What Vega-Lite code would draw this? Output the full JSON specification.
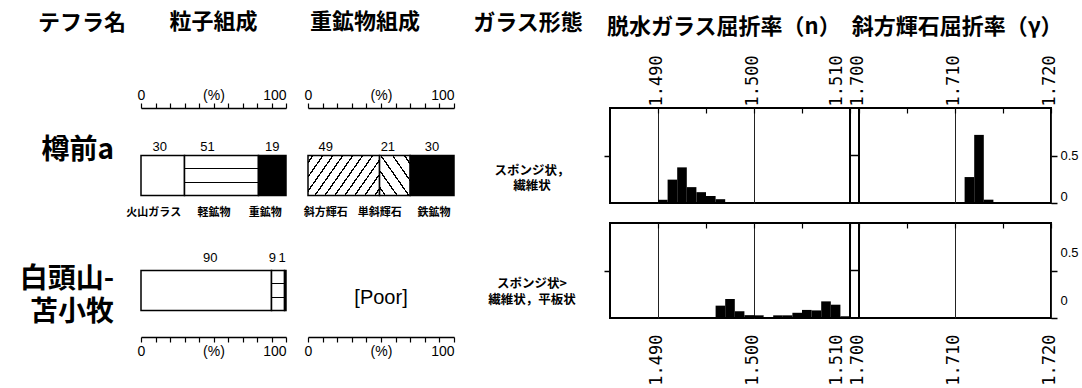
{
  "$schema": "https://vega.github.io/schema/vega-lite/v6.json",
  "background": "white",
  "padding": {"left": 0, "top": 11, "right": 0, "bottom": 0},
  "columns": 5,
  "spacing": {"row": 20, "column": 22},
  "bounds": "flush",
  "align": "each",
  "datasets": {
    "names": [
      {"tephra": "樽前a", "name": "樽前a"},
      {"tephra": "白頭山-苫小牧", "name": "白頭山-\n苫小牧"}
    ],
    "particles": [
      {"tephra": "樽前a", "comp": "火山ガラス", "pct": 30, "ord": 1},
      {"tephra": "樽前a", "comp": "軽鉱物", "pct": 51, "ord": 2},
      {"tephra": "樽前a", "comp": "重鉱物", "pct": 19, "ord": 3},
      {"tephra": "白頭山-苫小牧", "comp": "火山ガラス", "pct": 90, "ord": 1},
      {"tephra": "白頭山-苫小牧", "comp": "軽鉱物", "pct": 9, "ord": 2},
      {"tephra": "白頭山-苫小牧", "comp": "重鉱物", "pct": 1, "ord": 3}
    ],
    "heavy": [
      {"tephra": "樽前a", "mineral": "斜方輝石", "pct": 49, "ord": 1},
      {"tephra": "樽前a", "mineral": "単斜輝石", "pct": 21, "ord": 2},
      {"tephra": "樽前a", "mineral": "鉄鉱物", "pct": 30, "ord": 3}
    ],
    "notes": [
      {"tephra": "白頭山-苫小牧", "note": "[Poor]"}
    ],
    "morph": [
      {"tephra": "樽前a", "morph": "スポンジ状，\n繊維状"},
      {"tephra": "白頭山-苫小牧", "morph": "スポンジ状>\n繊維状，平板状"}
    ],
    "refr": [
      {"tephra": "樽前a", "mineral": "glass", "lo": 1.490, "hi": 1.491, "freq": 0.034},
      {"tephra": "樽前a", "mineral": "glass", "lo": 1.491, "hi": 1.492, "freq": 0.246},
      {"tephra": "樽前a", "mineral": "glass", "lo": 1.492, "hi": 1.493, "freq": 0.375},
      {"tephra": "樽前a", "mineral": "glass", "lo": 1.493, "hi": 1.494, "freq": 0.167},
      {"tephra": "樽前a", "mineral": "glass", "lo": 1.494, "hi": 1.495, "freq": 0.114},
      {"tephra": "樽前a", "mineral": "glass", "lo": 1.495, "hi": 1.496, "freq": 0.074},
      {"tephra": "樽前a", "mineral": "glass", "lo": 1.496, "hi": 1.497, "freq": 0.04},
      {"tephra": "樽前a", "mineral": "opx", "lo": 1.711, "hi": 1.712, "freq": 0.273},
      {"tephra": "樽前a", "mineral": "opx", "lo": 1.712, "hi": 1.713, "freq": 0.717},
      {"tephra": "樽前a", "mineral": "opx", "lo": 1.713, "hi": 1.714, "freq": 0.035},
      {"tephra": "白頭山-苫小牧", "mineral": "glass", "lo": 1.496, "hi": 1.497, "freq": 0.13},
      {"tephra": "白頭山-苫小牧", "mineral": "glass", "lo": 1.497, "hi": 1.498, "freq": 0.2},
      {"tephra": "白頭山-苫小牧", "mineral": "glass", "lo": 1.498, "hi": 1.499, "freq": 0.07},
      {"tephra": "白頭山-苫小牧", "mineral": "glass", "lo": 1.499, "hi": 1.500, "freq": 0.03},
      {"tephra": "白頭山-苫小牧", "mineral": "glass", "lo": 1.500, "hi": 1.501, "freq": 0.028},
      {"tephra": "白頭山-苫小牧", "mineral": "glass", "lo": 1.501, "hi": 1.502, "freq": 0.005},
      {"tephra": "白頭山-苫小牧", "mineral": "glass", "lo": 1.502, "hi": 1.503, "freq": 0.028},
      {"tephra": "白頭山-苫小牧", "mineral": "glass", "lo": 1.503, "hi": 1.504, "freq": 0.028},
      {"tephra": "白頭山-苫小牧", "mineral": "glass", "lo": 1.504, "hi": 1.505, "freq": 0.055},
      {"tephra": "白頭山-苫小牧", "mineral": "glass", "lo": 1.505, "hi": 1.506, "freq": 0.085},
      {"tephra": "白頭山-苫小牧", "mineral": "glass", "lo": 1.506, "hi": 1.507, "freq": 0.08},
      {"tephra": "白頭山-苫小牧", "mineral": "glass", "lo": 1.507, "hi": 1.508, "freq": 0.175},
      {"tephra": "白頭山-苫小牧", "mineral": "glass", "lo": 1.508, "hi": 1.509, "freq": 0.14},
      {"tephra": "白頭山-苫小牧", "mineral": "glass", "lo": 1.509, "hi": 1.510, "freq": 0.018}
    ]
  },
  "concat": [
    {
      "width": 119, "height": 95,
      "title": {"text": "テフラ名", "anchor": "start", "dx": 38, "offset": 73},
      "data": {"name": "names"},
      "transform": [{"filter": "datum.tephra === '樽前a'"}],
      "mark": {"type": "text", "align": "right", "baseline": "middle", "dx": -5, "dy": -4.5, "fontSize": 28, "fontWeight": "bold", "lineBreak": "\n", "lineHeight": 33, "color": "black"},
      "encoding": {"x": {"value": "width"}, "text": {"field": "name", "type": "nominal"}}
    },
    {
      "width": 145, "height": 95,
      "title": {"text": "粒子組成", "anchor": "middle", "offset": 54},
      "data": {"name": "particles"},
      "transform": [
        {"filter": "datum.tephra === '樽前a'"},
        {"stack": "pct", "groupby": ["tephra"], "sort": [{"field": "ord", "order": "ascending"}], "as": ["start", "end"]}
      ],
      "encoding": {
        "x": {"field": "start", "type": "quantitative", "scale": {"domain": [0, 100], "nice": false, "zero": false},
          "axis": {"orient": "top", "values": [0,10,20,30,40,50,60,70,80,90,100], "tickSize": 5, "tickWidth": 1.2, "tickColor": "black", "domainColor": "black", "domainWidth": 1.5, "grid": false, "title": null,
            "labelExpr": "datum.value == 0 ? '0' : datum.value == 50 ? '(%)' : datum.value == 100 ? '100' : ''",
            "labelAlign": {"condition": {"test": "datum.value == 100", "value": "right"}, "value": "center"},
            "labelPadding": 1, "labelFont": "Liberation Sans", "labelFontSize": 14, "labelColor": "black", "labelFlush": false, "labelOverlap": false, "labelBound": false}},
        "y": {"field": "tephra", "type": "nominal", "axis": null, "scale": {"type": "band", "paddingInner": 0, "paddingOuter": 0.6875, "align": 0.864}}
      },
      "layer": [
        {"transform": [{"filter": "datum.comp === '火山ガラス'"}], "mark": {"type": "rect", "fill": "white", "stroke": "black", "strokeWidth": 1.5}, "encoding": {"x2": {"field": "end"}}},
        {"transform": [{"filter": "datum.comp === '軽鉱物'"}], "mark": {"type": "rect", "stroke": "black", "strokeWidth": 1.5,
          "fill": {"gradient": "linear", "x1": 0, "y1": 0, "x2": 0, "y2": 1, "stops": [
            {"offset": 0, "color": "white"}, {"offset": 0.318, "color": "white"}, {"offset": 0.318, "color": "black"}, {"offset": 0.348, "color": "black"}, {"offset": 0.348, "color": "white"},
            {"offset": 0.652, "color": "white"}, {"offset": 0.652, "color": "black"}, {"offset": 0.682, "color": "black"}, {"offset": 0.682, "color": "white"}, {"offset": 1, "color": "white"}]}},
          "encoding": {"x2": {"field": "end"}}},
        {"transform": [{"filter": "datum.comp === '重鉱物'"}], "mark": {"type": "rect", "fill": "black", "stroke": "black", "strokeWidth": 1.5}, "encoding": {"x2": {"field": "end"}}},
        {"transform": [{"fold": ["start", "end"], "as": ["edge", "pos"]}, {"aggregate": [{"op": "mean", "field": "pos", "as": "mid"}], "groupby": ["tephra", "comp", "pct"]}],
          "mark": {"type": "text", "dy": -29, "dx": {"expr": "datum.comp === '火山ガラス' ? -3 : datum.comp === '軽鉱物' ? -14 : 0"}, "font": "Liberation Sans", "fontSize": 13, "color": "black", "baseline": "middle"},
          "encoding": {"x": {"field": "mid", "type": "quantitative"}, "text": {"field": "pct", "type": "quantitative"}}},
        {"transform": [{"fold": ["start", "end"], "as": ["edge", "pos"]}, {"aggregate": [{"op": "mean", "field": "pos", "as": "mid"}], "groupby": ["tephra", "comp", "pct"]}],
          "mark": {"type": "text", "dy": 37.5, "dx": {"expr": "datum.comp === '火山ガラス' ? -9 : datum.comp === '軽鉱物' ? -7.5 : -7"}, "fontSize": 11, "fontWeight": "bold", "color": "black", "baseline": "middle"},
          "encoding": {"x": {"field": "mid", "type": "quantitative"}, "text": {"field": "comp", "type": "nominal"}}}
      ]
    },
    {
      "width": 146, "height": 95,
      "title": {"text": "重鉱物組成", "anchor": "start", "dx": 2, "offset": 54},
      "data": {"name": "heavy"},
      "transform": [
        {"filter": "datum.tephra === '樽前a'"},
        {"stack": "pct", "groupby": ["tephra"], "sort": [{"field": "ord", "order": "ascending"}], "as": ["start", "end"]}
      ],
      "encoding": {
        "x": {"field": "start", "type": "quantitative", "scale": {"domain": [0, 100], "nice": false, "zero": false},
          "axis": {"orient": "top", "values": [0,10,20,30,40,50,60,70,80,90,100], "tickSize": 5, "tickWidth": 1.2, "tickColor": "black", "domainColor": "black", "domainWidth": 1.5, "grid": false, "title": null,
            "labelExpr": "datum.value == 0 ? '0' : datum.value == 50 ? '(%)' : datum.value == 100 ? '100' : ''",
            "labelAlign": {"condition": {"test": "datum.value == 100", "value": "right"}, "value": "center"},
            "labelPadding": 1, "labelFont": "Liberation Sans", "labelFontSize": 14, "labelColor": "black", "labelFlush": false, "labelOverlap": false, "labelBound": false}},
        "y": {"field": "tephra", "type": "nominal", "axis": null, "scale": {"type": "band", "paddingInner": 0, "paddingOuter": 0.6875, "align": 0.864}}
      },
      "layer": [
        {"transform": [{"filter": "datum.mineral === '斜方輝石'"}], "mark": {"type": "rect", "stroke": "black", "strokeWidth": 1.5,
          "fill": {"gradient": "linear", "x1": 0, "y1": 0, "x2": 1.207, "y2": 0.4725, "stops": [
            {"offset": 0, "color": "white"},
            {"offset": 0.042, "color": "white"}, {"offset": 0.042, "color": "black"}, {"offset": 0.058, "color": "black"}, {"offset": 0.058, "color": "white"},
            {"offset": 0.142, "color": "white"}, {"offset": 0.142, "color": "black"}, {"offset": 0.158, "color": "black"}, {"offset": 0.158, "color": "white"},
            {"offset": 0.242, "color": "white"}, {"offset": 0.242, "color": "black"}, {"offset": 0.258, "color": "black"}, {"offset": 0.258, "color": "white"},
            {"offset": 0.342, "color": "white"}, {"offset": 0.342, "color": "black"}, {"offset": 0.358, "color": "black"}, {"offset": 0.358, "color": "white"},
            {"offset": 0.442, "color": "white"}, {"offset": 0.442, "color": "black"}, {"offset": 0.458, "color": "black"}, {"offset": 0.458, "color": "white"},
            {"offset": 0.542, "color": "white"}, {"offset": 0.542, "color": "black"}, {"offset": 0.558, "color": "black"}, {"offset": 0.558, "color": "white"},
            {"offset": 0.642, "color": "white"}, {"offset": 0.642, "color": "black"}, {"offset": 0.658, "color": "black"}, {"offset": 0.658, "color": "white"},
            {"offset": 0.742, "color": "white"}, {"offset": 0.742, "color": "black"}, {"offset": 0.758, "color": "black"}, {"offset": 0.758, "color": "white"},
            {"offset": 0.842, "color": "white"}, {"offset": 0.842, "color": "black"}, {"offset": 0.858, "color": "black"}, {"offset": 0.858, "color": "white"},
            {"offset": 0.942, "color": "white"}, {"offset": 0.942, "color": "black"}, {"offset": 0.958, "color": "black"}, {"offset": 0.958, "color": "white"},
            {"offset": 1, "color": "white"}]}},
          "encoding": {"x2": {"field": "end"}}},
        {"transform": [{"filter": "datum.mineral === '単斜輝石'"}], "mark": {"type": "rect", "stroke": "black", "strokeWidth": 1.5,
          "fill": {"gradient": "linear", "x1": 0, "y1": 1, "x2": 1.044, "y2": 0.048, "stops": [
            {"offset": 0, "color": "white"},
            {"offset": 0.0865, "color": "white"}, {"offset": 0.0865, "color": "black"}, {"offset": 0.1135, "color": "black"}, {"offset": 0.1135, "color": "white"},
            {"offset": 0.2865, "color": "white"}, {"offset": 0.2865, "color": "black"}, {"offset": 0.3135, "color": "black"}, {"offset": 0.3135, "color": "white"},
            {"offset": 0.4865, "color": "white"}, {"offset": 0.4865, "color": "black"}, {"offset": 0.5135, "color": "black"}, {"offset": 0.5135, "color": "white"},
            {"offset": 0.6865, "color": "white"}, {"offset": 0.6865, "color": "black"}, {"offset": 0.7135, "color": "black"}, {"offset": 0.7135, "color": "white"},
            {"offset": 0.8865, "color": "white"}, {"offset": 0.8865, "color": "black"}, {"offset": 0.9135, "color": "black"}, {"offset": 0.9135, "color": "white"},
            {"offset": 1, "color": "white"}]}},
          "encoding": {"x2": {"field": "end"}}},
        {"transform": [{"filter": "datum.mineral === '鉄鉱物'"}], "mark": {"type": "rect", "fill": "black", "stroke": "black", "strokeWidth": 1.5}, "encoding": {"x2": {"field": "end"}}},
        {"transform": [{"fold": ["start", "end"], "as": ["edge", "pos"]}, {"aggregate": [{"op": "mean", "field": "pos", "as": "mid"}], "groupby": ["tephra", "mineral", "pct"]}],
          "mark": {"type": "text", "dy": -29, "dx": {"expr": "datum.mineral === '斜方輝石' ? -18 : datum.mineral === '単斜輝石' ? -7 : 0"}, "font": "Liberation Sans", "fontSize": 13, "color": "black", "baseline": "middle"},
          "encoding": {"x": {"field": "mid", "type": "quantitative"}, "text": {"field": "pct", "type": "quantitative"}}},
        {"transform": [{"fold": ["start", "end"], "as": ["edge", "pos"]}, {"aggregate": [{"op": "mean", "field": "pos", "as": "mid"}], "groupby": ["tephra", "mineral", "pct"]}],
          "mark": {"type": "text", "dy": 37.5, "dx": {"expr": "datum.mineral === '斜方輝石' ? -18 : datum.mineral === '単斜輝石' ? -15 : 2"}, "fontSize": 11, "fontWeight": "bold", "color": "black", "baseline": "middle"},
          "encoding": {"x": {"field": "mid", "type": "quantitative"}, "text": {"field": "mineral", "type": "nominal"}}}
      ]
    },
    {
      "width": 112, "height": 95,
      "title": {"text": "ガラス形態", "anchor": "middle", "dx": -4, "offset": 73},
      "data": {"name": "morph"},
      "transform": [{"filter": "datum.tephra === '樽前a'"}],
      "mark": {"type": "text", "align": "center", "baseline": "middle", "dy": 15, "fontSize": 12.5, "fontWeight": "bold", "lineBreak": "\n", "lineHeight": 15, "color": "black"},
      "encoding": {"text": {"field": "morph", "type": "nominal"}}
    },
    {
      "width": 441, "height": 95,
      "view": {"stroke": "black", "strokeWidth": 2},
      "title": {"text": "脱水ガラス屈折率（n）　斜方輝石屈折率（γ）", "anchor": "start", "dx": -3, "offset": 16},
      "resolve": {"axis": {"x": "independent", "y": "independent"}},
      "layer": [
        {
          "data": {"name": "refr"},
          "transform": [{"filter": "datum.tephra === '樽前a'"}],
          "mark": {"type": "rect", "fill": "black"},
          "encoding": {
            "x": {"field": "lo", "type": "quantitative", "scale": {"domain": [1.485, 1.51, 1.70, 1.72], "range": [0, 240, 249, 441], "nice": false, "zero": false},
              "axis": {"orient": "top", "values": [1.49, 1.495, 1.5, 1.505, 1.51, 1.7, 1.705, 1.71, 1.715, 1.72], "tickSize": -5, "tickWidth": 1.2, "tickColor": "black", "domain": false,
                "grid": true, "gridColor": "#222222", "gridWidth": 1, "gridOpacity": {"condition": {"test": "round(datum.value*1000) % 10 != 0", "value": 0}, "value": 1},
                "labelExpr": "round(datum.value*1000) % 10 == 0 ? format(datum.value, '.3f') : ''",
                "labelOffset": {"condition": {"test": "round(datum.value*1000) == 1510", "value": -14}, "value": -2},
                "labelAngle": 270, "labelAlign": "left", "labelBaseline": "middle", "labelPadding": 7, "labelFont": "DejaVu Sans Mono", "labelFontSize": 17, "labelColor": "black",
                "labelOverlap": false, "labelFlush": false, "labelBound": false, "title": null}},
            "x2": {"field": "hi"},
            "y": {"field": "freq", "type": "quantitative", "scale": {"domain": [0, 1], "nice": false, "zero": false},
              "axis": {"orient": "left", "values": [0.5], "tickSize": 6, "tickWidth": 1.5, "tickColor": "black", "labels": false, "domain": false, "grid": false, "title": null}},
            "y2": {"datum": 0}
          }
        },
        {
          "data": {"values": [{}]},
          "mark": {"type": "rule", "color": "black", "strokeWidth": 2},
          "encoding": {"x": {"datum": 1.51, "type": "quantitative", "axis": null}}
        },
        {
          "data": {"values": [{}]},
          "mark": {"type": "rule", "color": "black", "strokeWidth": 2},
          "encoding": {"x": {"datum": 1.70, "type": "quantitative", "axis": null}}
        },
        {
          "data": {"values": [{}]},
          "mark": {"type": "rule", "color": "black", "strokeWidth": 1.5},
          "encoding": {
            "x": {"datum": 1.51, "type": "quantitative", "axis": null},
            "x2": {"datum": 1.70},
            "y": {"datum": 0.5, "type": "quantitative",
              "axis": {"orient": "right", "values": [0, 0.5], "tickSize": 6, "tickWidth": 1.5, "tickColor": "black", "domain": false, "grid": false, "title": null,
                "labelExpr": "datum.value == 0 ? '0' : '0.5'", "labelFont": "Liberation Sans", "labelFontSize": 13, "labelColor": "black", "labelPadding": 3, "labelFlush": true}}
          }
        }
      ]
    },
    {
      "width": 119, "height": 95,
      "data": {"name": "names"},
      "transform": [{"filter": "datum.tephra === '白頭山-苫小牧'"}],
      "mark": {"type": "text", "align": "right", "baseline": "middle", "dx": -5, "dy": 9.25, "fontSize": 28, "fontWeight": "bold", "lineBreak": "\n", "lineHeight": 33, "color": "black"},
      "encoding": {"x": {"value": "width"}, "text": {"field": "name", "type": "nominal"}}
    },
    {
      "width": 145, "height": 95,
      "data": {"name": "particles"},
      "transform": [
        {"filter": "datum.tephra === '白頭山-苫小牧'"},
        {"stack": "pct", "groupby": ["tephra"], "sort": [{"field": "ord", "order": "ascending"}], "as": ["start", "end"]}
      ],
      "encoding": {
        "x": {"field": "start", "type": "quantitative", "scale": {"domain": [0, 100], "nice": false, "zero": false},
          "axis": {"orient": "bottom", "offset": 19, "values": [0,10,20,30,40,50,60,70,80,90,100], "tickSize": 5, "tickWidth": 1.2, "tickColor": "black", "domainColor": "black", "domainWidth": 1.5, "grid": false, "title": null,
            "labelExpr": "datum.value == 0 ? '0' : datum.value == 50 ? '(%)' : datum.value == 100 ? '100' : ''",
            "labelAlign": {"condition": {"test": "datum.value == 100", "value": "right"}, "value": "center"},
            "labelPadding": 2, "labelFont": "Liberation Sans", "labelFontSize": 14, "labelColor": "black", "labelFlush": false, "labelOverlap": false, "labelBound": false}},
        "y": {"field": "tephra", "type": "nominal", "axis": null, "scale": {"type": "band", "paddingInner": 0, "paddingOuter": 0.6875, "align": 0.864}}
      },
      "layer": [
        {"transform": [{"filter": "datum.comp === '火山ガラス'"}], "mark": {"type": "rect", "fill": "white", "stroke": "black", "strokeWidth": 1.5}, "encoding": {"x2": {"field": "end"}}},
        {"transform": [{"filter": "datum.comp === '軽鉱物'"}], "mark": {"type": "rect", "stroke": "black", "strokeWidth": 1.5,
          "fill": {"gradient": "linear", "x1": 0, "y1": 0, "x2": 0, "y2": 1, "stops": [
            {"offset": 0, "color": "white"}, {"offset": 0.318, "color": "white"}, {"offset": 0.318, "color": "black"}, {"offset": 0.348, "color": "black"}, {"offset": 0.348, "color": "white"},
            {"offset": 0.652, "color": "white"}, {"offset": 0.652, "color": "black"}, {"offset": 0.682, "color": "black"}, {"offset": 0.682, "color": "white"}, {"offset": 1, "color": "white"}]}},
          "encoding": {"x2": {"field": "end"}}},
        {"transform": [{"filter": "datum.comp === '重鉱物'"}], "mark": {"type": "rect", "fill": "black", "stroke": "black", "strokeWidth": 1.5}, "encoding": {"x2": {"field": "end"}}},
        {"transform": [{"fold": ["start", "end"], "as": ["edge", "pos"]}, {"aggregate": [{"op": "mean", "field": "pos", "as": "mid"}], "groupby": ["tephra", "comp", "pct"]}],
          "mark": {"type": "text", "dy": -32.5, "dx": {"expr": "datum.comp === '火山ガラス' ? 4 : datum.comp === '軽鉱物' ? -5.6 : -3.2"}, "font": "Liberation Sans", "fontSize": 13, "color": "black", "baseline": "middle"},
          "encoding": {"x": {"field": "mid", "type": "quantitative"}, "text": {"field": "pct", "type": "quantitative"}}}
      ]
    },
    {
      "width": 146, "height": 95,
      "data": {"name": "notes"},
      "mark": {"type": "text", "font": "Liberation Sans", "fontSize": 20, "dy": 27.5, "color": "black", "baseline": "middle"},
      "encoding": {
        "x": {"datum": 50, "type": "quantitative", "scale": {"domain": [0, 100], "nice": false, "zero": false},
          "axis": {"orient": "bottom", "offset": 19, "values": [0,10,20,30,40,50,60,70,80,90,100], "tickSize": 5, "tickWidth": 1.2, "tickColor": "black", "domainColor": "black", "domainWidth": 1.5, "grid": false, "title": null,
            "labelExpr": "datum.value == 0 ? '0' : datum.value == 50 ? '(%)' : datum.value == 100 ? '100' : ''",
            "labelAlign": {"condition": {"test": "datum.value == 100", "value": "right"}, "value": "center"},
            "labelPadding": 2, "labelFont": "Liberation Sans", "labelFontSize": 14, "labelColor": "black", "labelFlush": false, "labelOverlap": false, "labelBound": false}},
        "text": {"field": "note", "type": "nominal"}
      }
    },
    {
      "width": 112, "height": 95,
      "data": {"name": "morph"},
      "transform": [{"filter": "datum.tephra === '白頭山-苫小牧'"}],
      "mark": {"type": "text", "align": "center", "baseline": "middle", "dy": 13, "fontSize": 12.5, "fontWeight": "bold", "lineBreak": "\n", "lineHeight": 16, "color": "black"},
      "encoding": {"text": {"field": "morph", "type": "nominal"}}
    },
    {
      "width": 441, "height": 95,
      "view": {"stroke": "black", "strokeWidth": 2},
      "resolve": {"axis": {"x": "independent", "y": "independent"}},
      "layer": [
        {
          "data": {"name": "refr"},
          "transform": [{"filter": "datum.tephra === '白頭山-苫小牧'"}],
          "mark": {"type": "rect", "fill": "black"},
          "encoding": {
            "x": {"field": "lo", "type": "quantitative", "scale": {"domain": [1.485, 1.51, 1.70, 1.72], "range": [0, 240, 249, 441], "nice": false, "zero": false},
              "axis": {"orient": "top", "values": [1.49, 1.495, 1.5, 1.505, 1.51, 1.7, 1.705, 1.71, 1.715, 1.72], "tickSize": -5, "tickWidth": 1.2, "tickColor": "black", "domain": false,
                "grid": true, "gridColor": "#222222", "gridWidth": 1, "gridOpacity": {"condition": {"test": "round(datum.value*1000) % 10 != 0", "value": 0}, "value": 1},
                "labels": false, "title": null}},
            "x2": {"field": "hi"},
            "y": {"field": "freq", "type": "quantitative", "scale": {"domain": [0, 1], "nice": false, "zero": false},
              "axis": {"orient": "left", "values": [0.5], "tickSize": 6, "tickWidth": 1.5, "tickColor": "black", "labels": false, "domain": false, "grid": false, "title": null}},
            "y2": {"datum": 0}
          }
        },
        {
          "data": {"values": [{}]},
          "mark": {"type": "rule", "color": "black", "strokeWidth": 2},
          "encoding": {"x": {"datum": 1.51, "type": "quantitative",
            "axis": {"orient": "bottom", "values": [1.49, 1.5, 1.51, 1.7, 1.71, 1.72], "ticks": false, "domain": false, "grid": false, "title": null,
              "labelExpr": "format(datum.value, '.3f')",
              "labelOffset": {"condition": {"test": "round(datum.value*1000) == 1510", "value": -14}, "value": -2},
              "labelAngle": 270, "labelAlign": "right", "labelBaseline": "middle", "labelPadding": 16,
              "labelFont": "DejaVu Sans Mono", "labelFontSize": 17, "labelColor": "black", "labelOverlap": false, "labelFlush": false, "labelBound": false}}}
        },
        {
          "data": {"values": [{}]},
          "mark": {"type": "rule", "color": "black", "strokeWidth": 2},
          "encoding": {"x": {"datum": 1.70, "type": "quantitative", "axis": null}}
        },
        {
          "data": {"values": [{}]},
          "mark": {"type": "rule", "color": "black", "strokeWidth": 1.5},
          "encoding": {
            "x": {"datum": 1.51, "type": "quantitative", "axis": null},
            "x2": {"datum": 1.70},
            "y": {"datum": 0.5, "type": "quantitative",
              "axis": {"orient": "right", "values": [0, 0.5], "tickSize": 6, "tickWidth": 1.5, "tickColor": "black", "domain": false, "grid": false, "title": null,
                "labelExpr": "datum.value == 0 ? '0' : '0.5'", "labelFont": "Liberation Sans", "labelFontSize": 13, "labelColor": "black", "labelPadding": 3, "labelOffset": -18}}
          }
        }
      ]
    }
  ],
  "config": {
    "font": "Noto Sans CJK JP",
    "view": {"stroke": null},
    "title": {"font": "Noto Sans CJK JP", "fontSize": 22, "fontWeight": "bold", "color": "black", "frame": "group"},
    "axis": {"labelColor": "black", "tickColor": "black", "domainColor": "black"}
  }
}
